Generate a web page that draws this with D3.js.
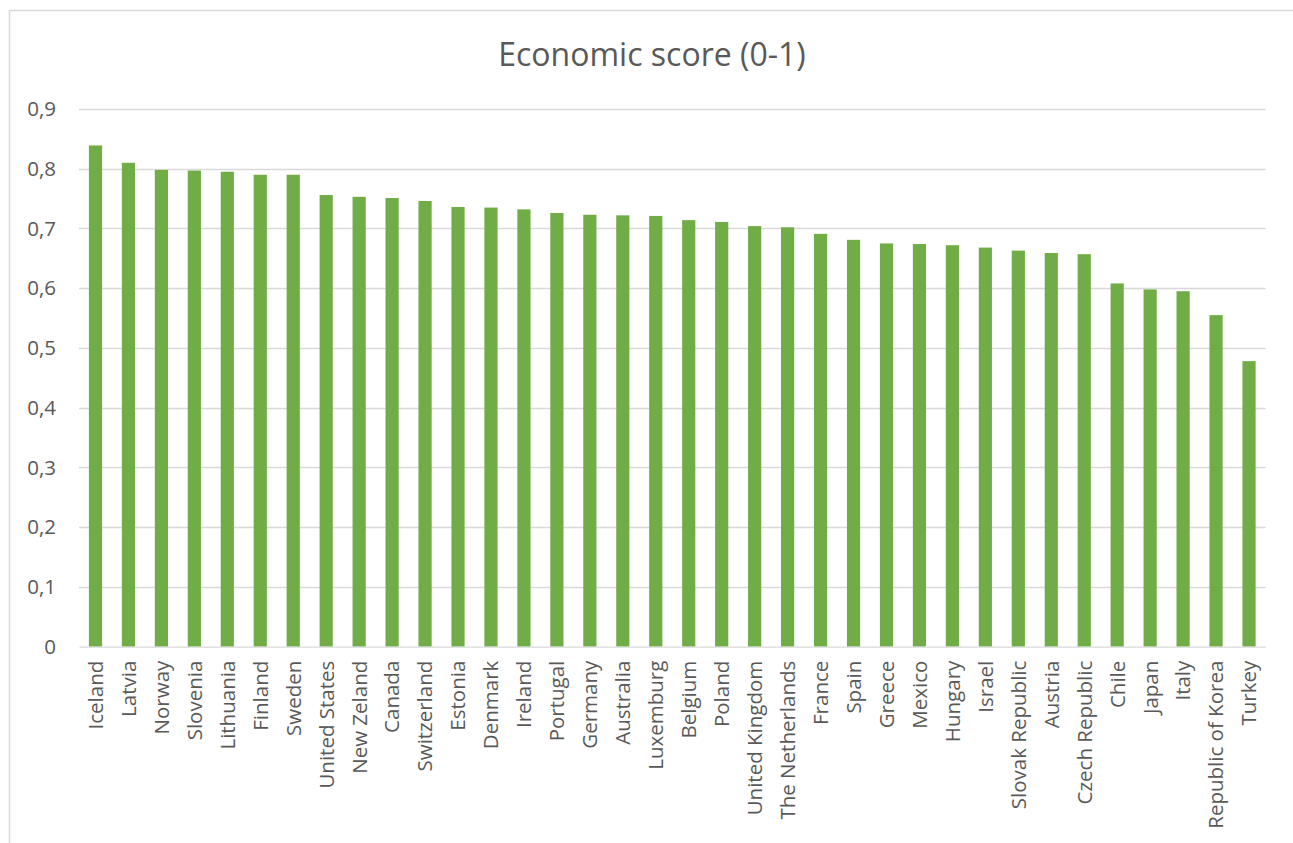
<!DOCTYPE html>
<html>
<head>
<meta charset="utf-8">
<script src="https://cdn.jsdelivr.net/npm/d3@7"></script>
<style>
  html, body { margin: 0; padding: 0; background: #fff; }
  svg { display: block; font-family: "Open Sans", "DejaVu Sans", sans-serif; }
</style>
</head>
<body>
<svg id="chart" width="1293" height="843"></svg>
<script>
// Economic score per country, sorted from highest to lowest
const countries = [
  "Iceland", "Latvia", "Norway", "Slovenia", "Lithuania", "Finland", "Sweden",
  "United States", "New Zeland", "Canada", "Switzerland", "Estonia", "Denmark",
  "Ireland", "Portugal", "Germany", "Australia", "Luxemburg", "Belgium", "Poland",
  "United Kingdom", "The Netherlands", "France", "Spain", "Greece", "Mexico",
  "Hungary", "Israel", "Slovak Republic", "Austria", "Czech Republic", "Chile",
  "Japan", "Italy", "Republic of Korea", "Turkey"
];
const scores = [
  0.839, 0.810, 0.798, 0.797, 0.795, 0.790, 0.790,
  0.756, 0.753, 0.751, 0.746, 0.736, 0.735,
  0.732, 0.726, 0.723, 0.722, 0.721, 0.714, 0.711,
  0.704, 0.702, 0.691, 0.681, 0.675, 0.674,
  0.672, 0.668, 0.663, 0.659, 0.657, 0.608,
  0.598, 0.595, 0.555, 0.478
];
const yTicks = [0, 0.1, 0.2, 0.3, 0.4, 0.5, 0.6, 0.7, 0.8, 0.9];
const title = "Economic score (0-1)";

const data = countries.map((c, i) => ({ country: c, score: scores[i] }));

const svg = d3.select("#chart");
const textColor = "#595959";
const gridColor = "#d9d9d9";
const barColor = "#70ad47";

// Outer chart frame
svg.append("rect")
  .attr("x", 9.5).attr("y", 10.5)
  .attr("width", 1300).attr("height", 850)
  .attr("fill", "none")
  .attr("stroke", gridColor)
  .attr("stroke-width", 1.5);

const plot = { left: 79, right: 1265.5, top: 109, bottom: 646.7 };

const x = d3.scaleBand()
  .domain(countries)
  .range([plot.left, plot.right])
  .paddingInner(0.6)
  .paddingOuter(0.3);

const y = d3.scaleLinear()
  .domain([0, 0.9])
  .range([plot.bottom, plot.top]);

// Horizontal gridlines
svg.append("g")
  .selectAll("line")
  .data(yTicks.filter(t => t > 0))
  .join("line")
  .attr("x1", plot.left).attr("x2", plot.right)
  .attr("y1", d => Math.round(y(d)) + 0.5)
  .attr("y2", d => Math.round(y(d)) + 0.5)
  .attr("stroke", gridColor)
  .attr("stroke-width", 1.3);

// Bars
svg.append("g")
  .selectAll("rect")
  .data(data)
  .join("rect")
  .attr("x", d => x(d.country))
  .attr("width", x.bandwidth())
  .attr("y", d => y(d.score))
  .attr("height", d => y(0) - y(d.score))
  .attr("fill", barColor);

// Category axis
const xAxis = svg.append("g")
  .attr("transform", `translate(0,${y(0)})`)
  .call(d3.axisBottom(x).tickSize(0).tickPadding(0));
xAxis.select(".domain")
  .attr("stroke", gridColor)
  .attr("stroke-width", 1.3);
xAxis.selectAll(".tick text")
  .attr("transform", "rotate(-90)")
  .attr("text-anchor", "end")
  .attr("x", -14)
  .attr("y", 0)
  .attr("dy", "0.36em")
  .attr("fill", textColor)
  .style("font-size", "20.5px")
  .style("font-family", "'Open Sans', sans-serif");

// Value axis
const yAxis = svg.append("g")
  .attr("transform", `translate(${plot.left},0)`)
  .call(d3.axisLeft(y)
    .tickValues(yTicks)
    .tickSize(0)
    .tickPadding(23)
    .tickFormat(d => d === 0 ? "0" : d3.format(".1f")(d).replace(".", ",")));
yAxis.select(".domain").remove();
yAxis.selectAll(".tick text")
  .attr("fill", textColor)
  .style("font-size", "20.5px")
  .style("font-family", "'Open Sans', sans-serif");

// Title
svg.append("text")
  .attr("x", 652)
  .attr("y", 66)
  .attr("text-anchor", "middle")
  .attr("fill", textColor)
  .style("font-size", "32px")
  .style("font-family", "'Open Sans', sans-serif")
  .text(title);
</script>
</body>
</html>
